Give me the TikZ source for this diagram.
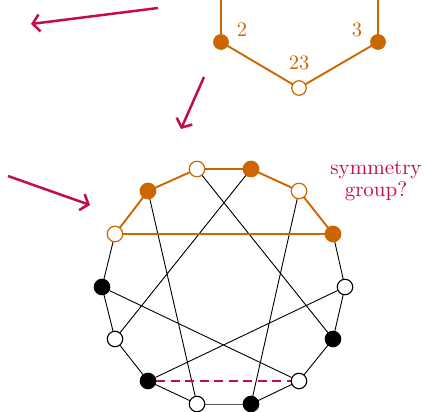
\documentclass[tikz,border=0pt]{standalone}
\usetikzlibrary{arrows.meta,backgrounds}
\definecolor{orng}{RGB}{204,102,0}
\definecolor{mag}{RGB}{196,12,76}
\begin{document}
\begin{tikzpicture}[x=1pt,y=-1pt,
  wv/.style={circle,draw=black,fill=white,line width=1.1pt,minimum size=15.5pt,inner sep=0pt},
  bv/.style={circle,draw=black,fill=black,line width=1.1pt,minimum size=15.5pt,inner sep=0pt},
  owv/.style={circle,draw=orng,fill=white,line width=1.2pt,minimum size=15.5pt,inner sep=0pt},
  obv/.style={circle,draw=orng,fill=orng,line width=1.2pt,minimum size=15.5pt,inner sep=0pt},
  ed/.style={line width=0.9pt,black},
  oed/.style={line width=1.9pt,orng},
  marrow/.style={mag,line width=2.5pt,-{Straight Barb[length=7pt,width=17pt,line width=2.5pt]}},
  lbl/.style={orng,font=\normalsize,scale=2.05,inner sep=0pt}]
\useasboundingbox (0,0) rectangle (426,412);
% 14-gon vertices
\node[owv] (v0) at (197,169) {};
\node[obv] (v1) at (251,169) {};
\node[owv] (v2) at (299,191) {};
\node[obv] (v3) at (333,234) {};
\node[wv] (v4) at (345,287) {};
\node[bv] (v5) at (333,339) {};
\node[wv] (v6) at (299,381) {};
\node[bv] (v7) at (251,404) {};
\node[wv] (v8) at (197,404) {};
\node[bv] (v9) at (148,381) {};
\node[wv] (v10) at (115,339) {};
\node[bv] (v11) at (102,287) {};
\node[owv] (v12) at (115,234) {};
\node[obv] (v13) at (148,191) {};
% top fragment
\coordinate (t2) at (221,-2);
\coordinate (t3) at (378,-2);
\node[obv,minimum size=14.5pt] (a2) at (221,42) {};
\node[obv,minimum size=14.5pt] (a3) at (378,42) {};
\node[owv,minimum size=14.5pt] (a23) at (299,88) {};
\begin{pgfonlayer}{background}
\draw[ed] (v3.center) -- (v4.center) -- (v5.center) -- (v6.center) -- (v7.center);
\draw[ed,black!65] (v7) -- (v8);
\draw[ed] (v8.center) -- (v9.center) -- (v10.center) -- (v11.center) -- (v12.center);
\draw[ed] (v0) -- (v5) (v1) -- (v10) (v13) -- (v8) (v2) -- (v7) (v11) -- (v6) (v4) -- (v9);
\draw[oed] (v12.center) -- (v13.center) -- (v0.center) -- (v1.center) -- (v2.center) -- (v3.center) -- (v12.center);
\draw[mag,line width=2.8pt,dash pattern=on 9pt off 5.5pt] (v9) -- (v6);
\draw[oed] (t2) -- (a2.center) -- (a23.center) -- (a3.center) -- (t3);
\end{pgfonlayer}
\node[lbl] (l2) at (242,30) {2};
\node[lbl] (l3) at (357,30) {3};
\node[lbl] (l23) at (299,63) {23};
% arrows
\coordinate (r1s) at (158,8);
\coordinate (r1e) at (31,24);
\coordinate (r2s) at (204,77);
\coordinate (r2e) at (181,129);
\coordinate (r3s) at (8,176);
\coordinate (r3e) at (90,205);
\draw[marrow] (r1s) -- (r1e);
\draw[marrow] (r2s) -- (r2e);
\draw[marrow] (r3s) -- (r3e);
\node[mag,font=\normalsize,scale=2.1,align=center,inner sep=0pt] (sg) at (376,181) {symmetry\\[-1.5pt]group?};
\end{tikzpicture}
\end{document}
